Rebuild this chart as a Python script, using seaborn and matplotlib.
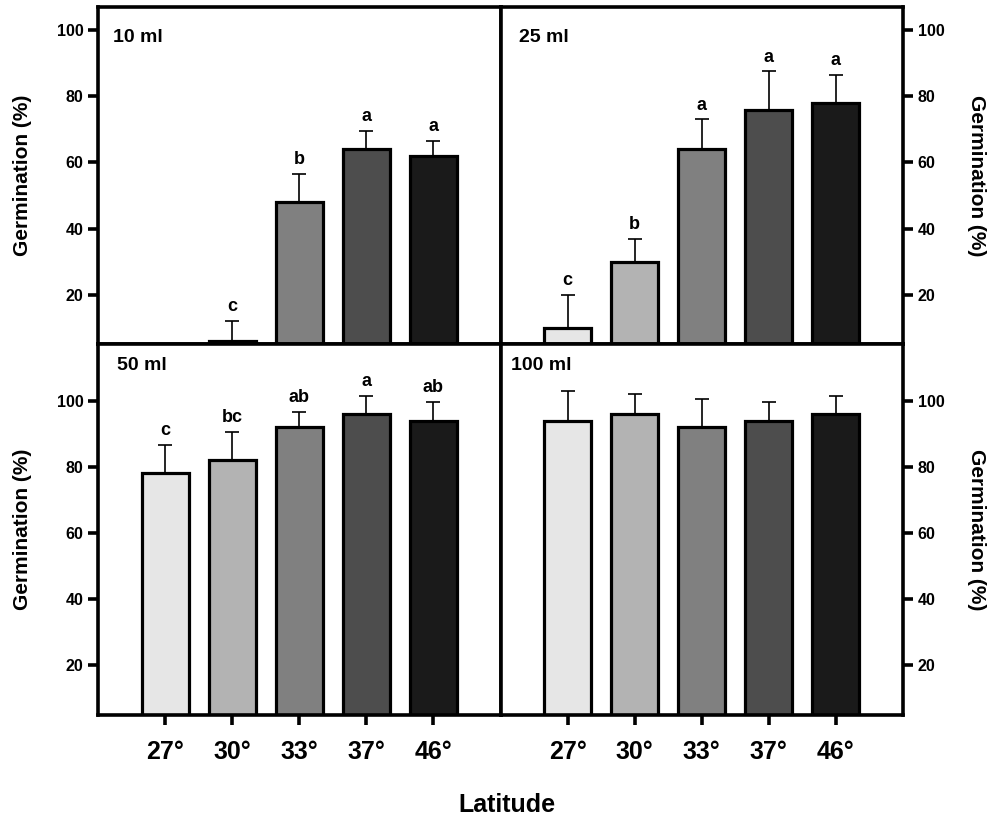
import numpy as np
import pandas as pd
import matplotlib
matplotlib.use('Agg')
import matplotlib.pyplot as plt
import seaborn as sns

# dados
latitudes = ['27°', '30°', '33°', '37°', '46°']
cores = ['#e6e6e6', '#b3b3b3', '#808080', '#4d4d4d', '#1a1a1a']

g10 = [0, 6, 48, 64, 62]
e10 = [0, 6, 8.5, 5.5, 4.5]
l10 = ['', 'c', 'b', 'a', 'a']

g25 = [10, 30, 64, 76, 78]
e25 = [10, 7, 9, 11.5, 8.5]
l25 = ['c', 'b', 'a', 'a', 'a']

g50 = [78, 82, 92, 96, 94]
e50 = [8.5, 8.5, 4.5, 5.5, 5.5]
l50 = ['c', 'bc', 'ab', 'a', 'ab']

g100 = [94, 96, 92, 94, 96]
e100 = [9, 6, 8.5, 5.5, 5.5]
l100 = ['', '', '', '', '']

sns.set_style('ticks')
plt.rcParams['font.family'] = ['Liberation Sans', 'DejaVu Sans']
plt.rcParams['font.weight'] = 'bold'
for k in ['text.color', 'axes.labelcolor', 'xtick.color', 'ytick.color',
          'axes.edgecolor']:
    plt.rcParams[k] = 'black'

fig, axes = plt.subplots(2, 2, figsize=(10, 8.3), dpi=100,
                         gridspec_kw={'height_ratios': [102, 112]})
plt.subplots_adjust(left=0.098, right=0.903, top=0.9916, bottom=0.1386,
                    hspace=0, wspace=0)

paineis = [
    (axes[0, 0], g10, e10, l10, '10 ml', (5, 107)),
    (axes[0, 1], g25, e25, l25, '25 ml', (5, 107)),
    (axes[1, 0], g50, e50, l50, '50 ml', (5, 117)),
    (axes[1, 1], g100, e100, l100, '100 ml', (5, 117)),
]

for i, (ax, vals, errs, letras, titulo, ylim) in enumerate(paineis):
    df = pd.DataFrame({'Latitude': latitudes, 'Germ': vals, 'Erro': errs})
    sns.barplot(data=df, x='Latitude', y='Germ', hue='Latitude',
                palette=cores, legend=False, width=0.7,
                edgecolor='black', linewidth=2.3, ax=ax, zorder=2)
    pos = np.arange(len(latitudes))
    err = np.array(errs, dtype=float)
    v = np.array(vals, dtype=float)
    mask = err > 0
    ax.errorbar(pos[mask], v[mask], yerr=[np.zeros(mask.sum()), err[mask]],
                fmt='none', ecolor='black', elinewidth=1.2, capsize=5,
                capthick=1.2, zorder=1)
    for p, y, e, t in zip(pos, v, err, letras):
        if t:
            ax.text(p, y + e + 3.0, t, ha='center', va='baseline',
                    fontsize=13, fontweight='bold')

    ax.set_xlim(-1, 5)
    ax.set_ylim(*ylim)
    ax.set_yticks([20, 40, 60, 80, 100])
    ax.set_xlabel('')
    ax.set_ylabel('')
    for s in ax.spines.values():
        s.set_visible(True)
        s.set_linewidth(2.6)
    ax.tick_params(axis='y', direction='out', length=7, width=2.6,
                   labelsize=11.5)
    ax.tick_params(axis='x', direction='out', length=7, width=2.6,
                   labelsize=18, pad=11)
    for lb in ax.get_yticklabels() + ax.get_xticklabels():
        lb.set_fontweight('bold')

    if i < 2:
        ax.tick_params(axis='x', bottom=False, labelbottom=False)
        ty = 0.896
    else:
        ty = 0.93
    if i % 2 == 1:
        ax.yaxis.tick_right()
        ax.yaxis.set_label_position('right')
        ax.set_ylabel('Germination (%)', fontsize=15, fontweight='bold',
                      rotation=270, labelpad=30)
        tx = 0.045 if i == 1 else 0.027
    else:
        ax.set_ylabel('Germination (%)', fontsize=15, fontweight='bold',
                      labelpad=18)
        tx = 0.037 if i == 0 else 0.047
    ax.text(tx, ty, titulo, transform=ax.transAxes, fontsize=14,
            fontweight='bold', va='baseline', ha='left')

fig.text(0.507, 0.03, 'Latitude', ha='center', va='center', fontsize=18,
         fontweight='bold')

plt.savefig('out.png', dpi=100)
